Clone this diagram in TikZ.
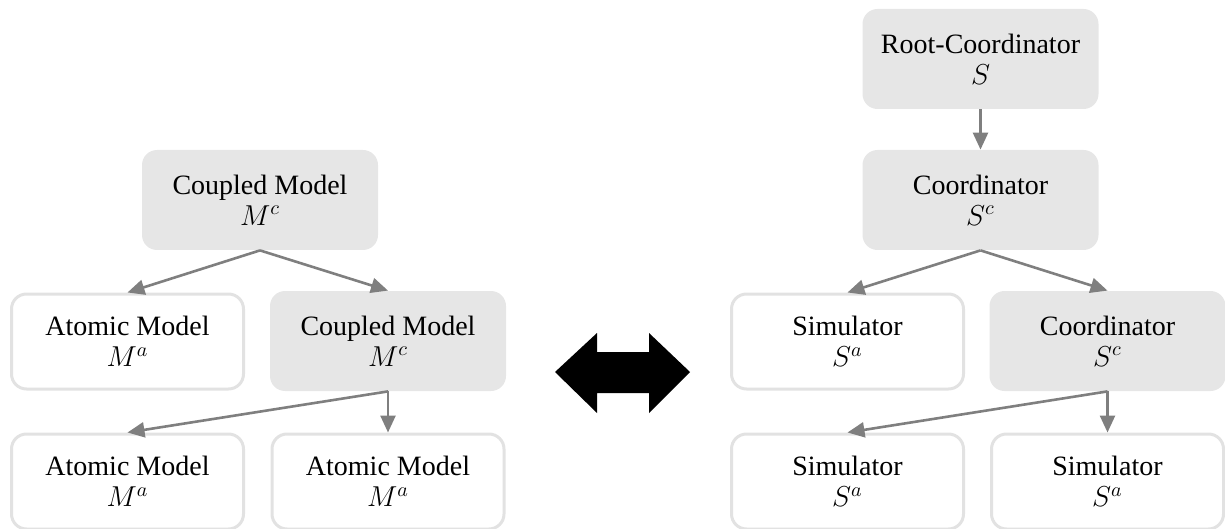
\documentclass[tikz,border=0pt]{standalone}
\usepackage{fontspec}
\setmainfont{Liberation Serif}
\usetikzlibrary{arrows.meta}

\definecolor{boxgray}{HTML}{E6E6E6}
\definecolor{edgegray}{HTML}{E2E2E2}
\definecolor{linkgray}{HTML}{7F7F7F}

\begin{document}
\begin{tikzpicture}[x=0.5pt,y=-0.5pt,
  block/.style={rectangle,rounded corners=7.5pt,align=center,inner sep=0pt,
    font=\fontsize{14}{15.5}\selectfont},
  full/.style={block,fill=boxgray,minimum width=118pt,minimum height=50pt},
  empty/.style={block,draw=edgegray,line width=1.5pt,fill=white,
    minimum width=116pt,minimum height=47.5pt},
  link/.style={draw=linkgray,line width=1.3pt,-{Triangle[length=8.5pt,width=7.5pt]}}]

  \useasboundingbox (0,0) rectangle (1225,529);

  % model side
  \node [full]  (mc)   at (260,200)   {Coupled Model\\$M^c$};
  \node [empty] (ma1)  at (127.5,341.5) {Atomic Model\\$M^a$};
  \node [full]  (mc2)  at (388,341)   {Coupled Model\\$M^c$};
  \node [empty] (ma2)  at (127.5,481.5) {Atomic Model\\$M^a$};
  \node [empty] (ma3)  at (388,481.5) {Atomic Model\\$M^a$};

  \draw [link] (mc.south) -- (ma1.north);
  \draw [link] (mc.south) -- (mc2.north);
  \draw [link] (mc2.south) -- (ma2.north);
  \draw [link] (mc2.south) -- (ma3.north);

  % simulator side
  \node [full]  (root) at (980.5,59)  {Root-Coordinator\\$S$};
  \node [full]  (sc)   at (980.5,200) {Coordinator\\$S^c$};
  \node [empty] (sa1)  at (847.5,341.5) {Simulator\\$S^a$};
  \node [full]  (sc2)  at (1107.5,341) {Coordinator\\$S^c$};
  \node [empty] (sa2)  at (847.5,481.5) {Simulator\\$S^a$};
  \node [empty] (sa3)  at (1107.5,481.5) {Simulator\\$S^a$};

  \draw [link] (root.south) -- (sc.north);
  \draw [link] (sc.south) -- (sa1.north);
  \draw [link] (sc.south) -- (sc2.north);
  \draw [link] (sc2.south) -- (sa2.north);
  \draw [link] (sc2.south) -- (sa3.north);

  % equivalence arrow
  \fill (555,372) -- (597,333) -- (597,352) -- (649,352) -- (649,333)
    -- (690,372) -- (649,413) -- (649,393) -- (597,393) -- (597,413) -- cycle;
\end{tikzpicture}
\end{document}
